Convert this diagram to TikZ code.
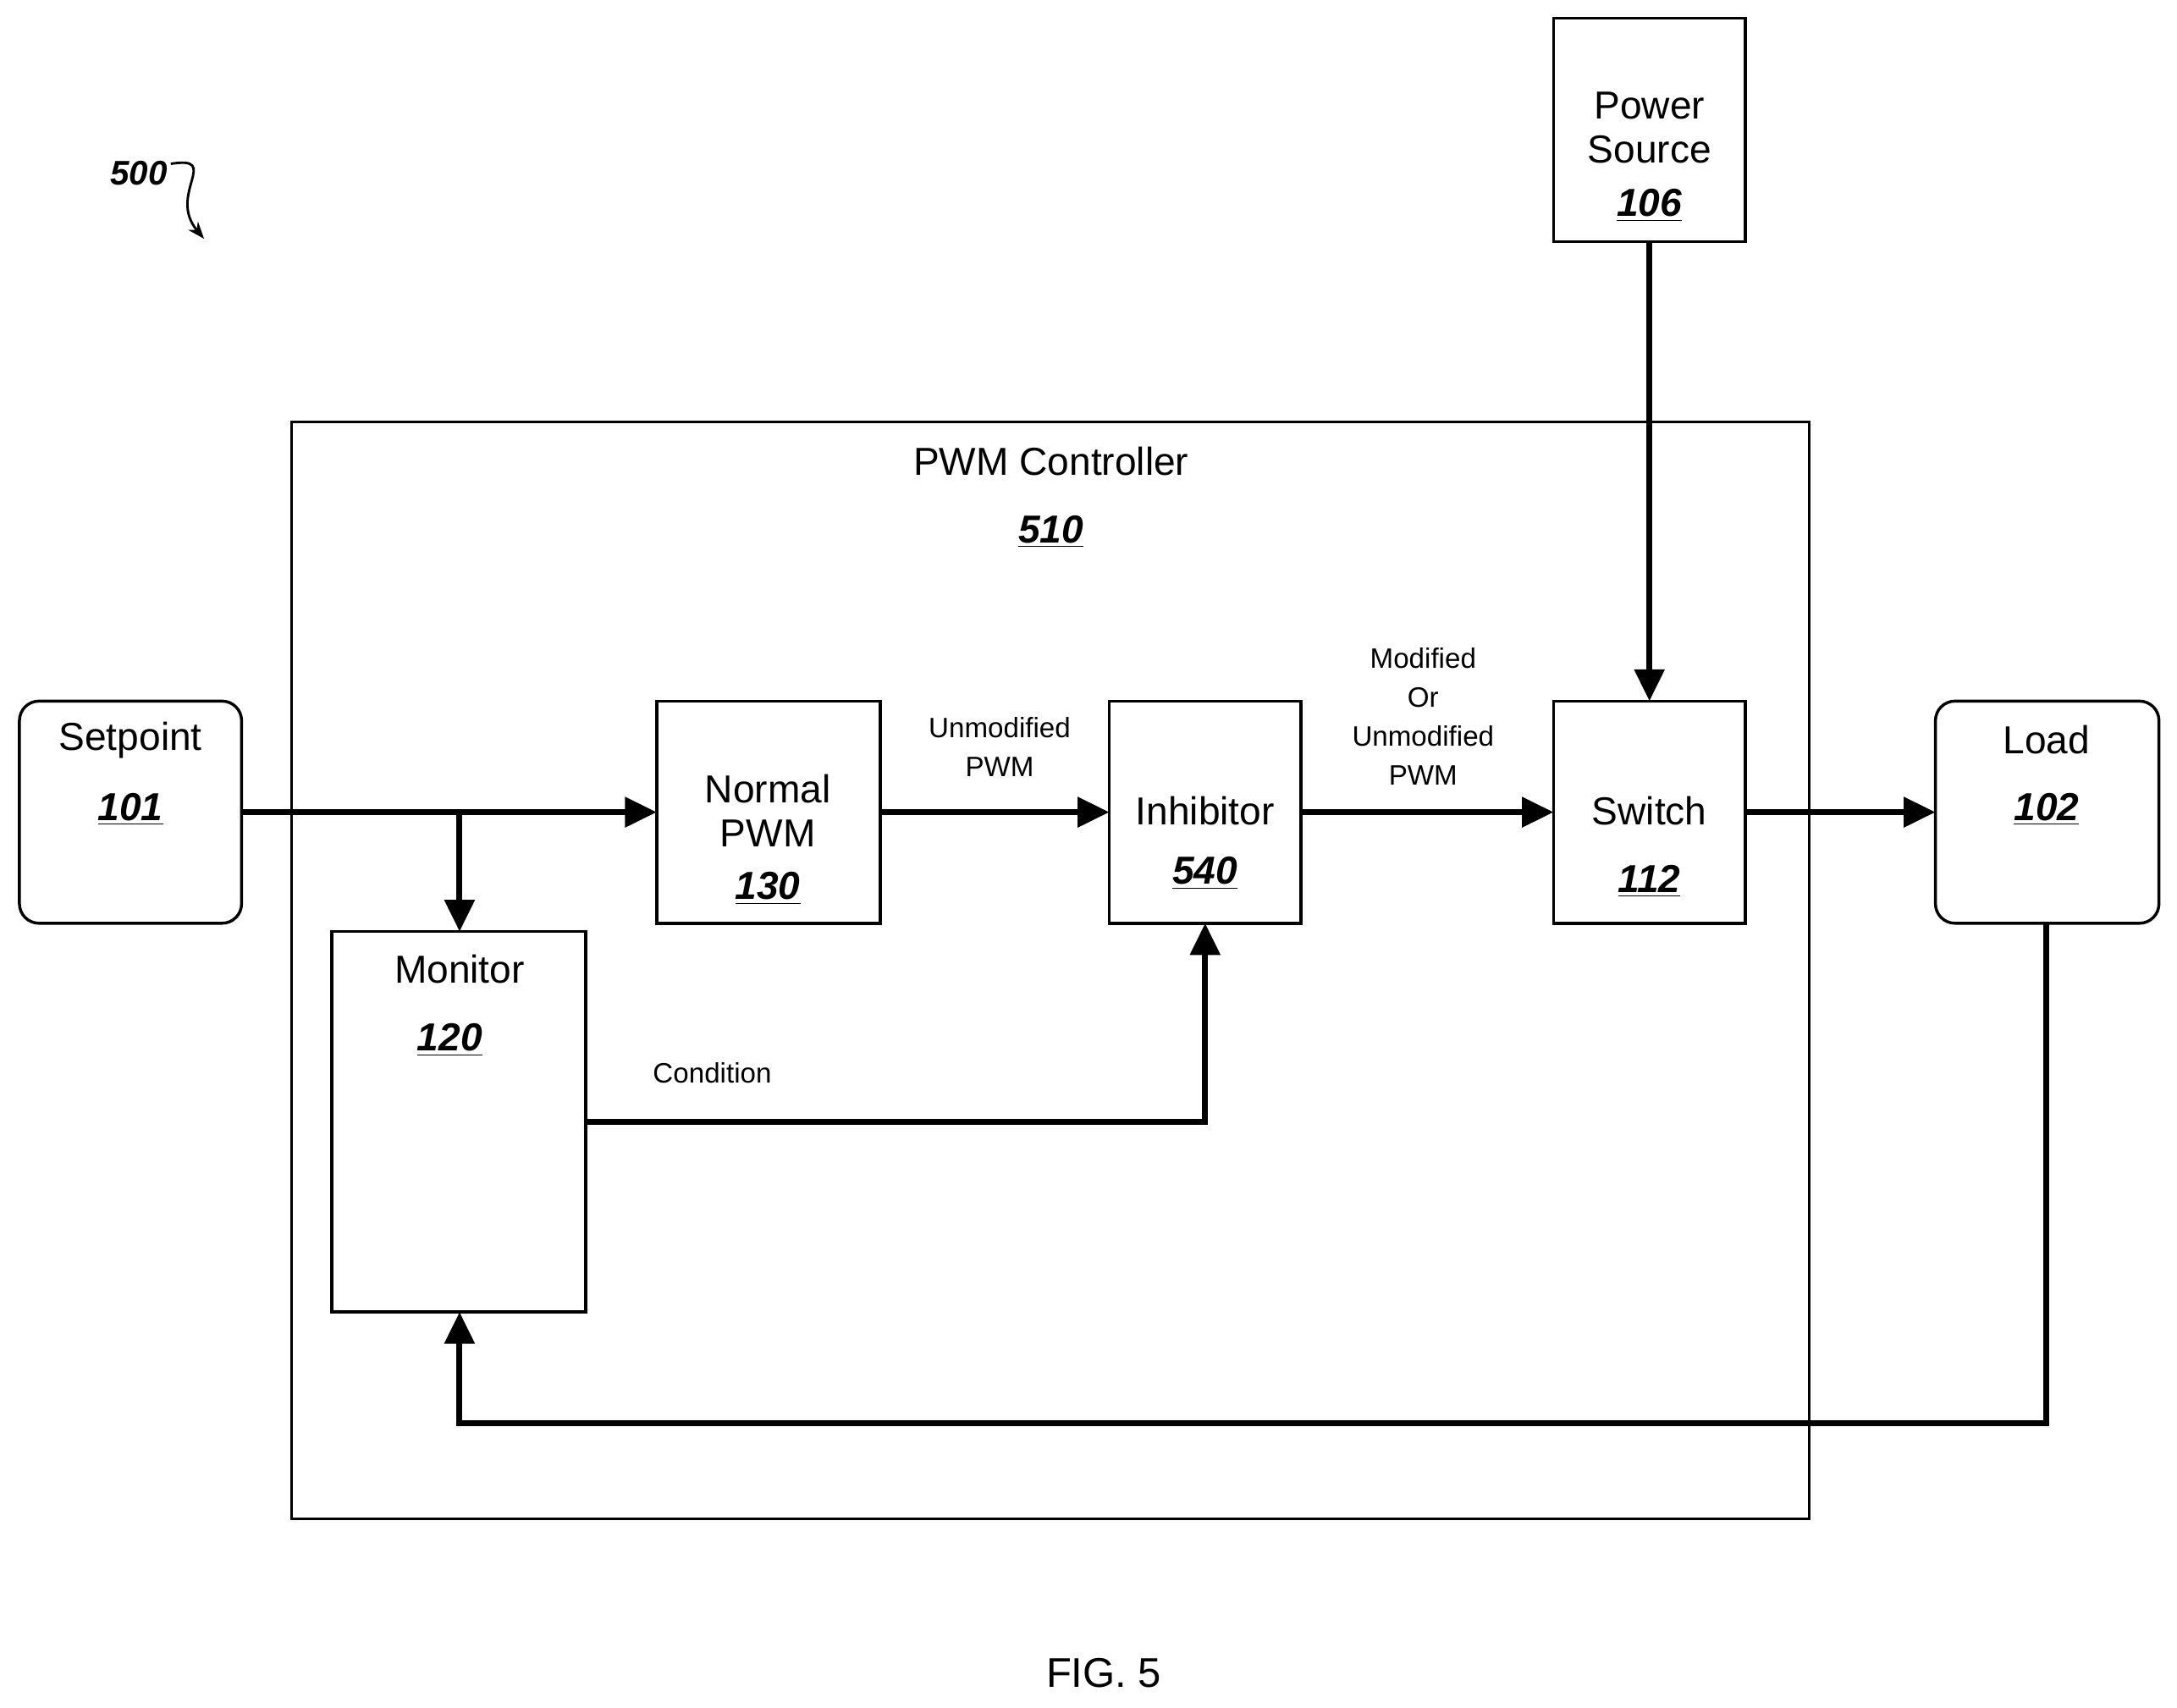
\documentclass[tikz,border=0pt]{standalone}
\usepackage{fontspec}
\setmainfont{Liberation Sans}
\usetikzlibrary{arrows.meta}
\newcommand{\refn}[1]{\textbf{\textit{\underline{#1}}}}
\begin{document}
\begin{tikzpicture}[x=0.02cm,y=-0.02cm,
 box/.style={draw,line width=1.2pt},
 rbox/.style={draw,line width=1.2pt,rounded corners=8pt},
 txt/.style={font=\fontsize{16}{18}\selectfont,align=center},
 lbl/.style={font=\fontsize{11.5}{16}\selectfont,align=center},
 con/.style={line width=2.4pt,-{Triangle[length=13pt,width=12pt]}},
 ln/.style={line width=2.4pt}]
\useasboundingbox (0,0) rectangle (1568,1230);
\draw[box] (210,304) rectangle (1303,1094);
\node[txt] at (757,332) {PWM Controller};
\node[txt] at (757,383) {\refn{510}};
\draw[rbox] (14,505) rectangle (174,665);
\node[txt] at (94,533) {Setpoint};
\node[txt] at (94,583) {\refn{101}};
\draw[box] (473,505) rectangle (634,665);
\node[txt] at (553,584) {Normal\\PWM};
\node[txt] at (553,640) {\refn{130}};
\draw[box] (799,505) rectangle (937,665);
\node[txt] at (868,584) {Inhibitor};
\node[txt] at (868,629) {\refn{540}};
\draw[box] (1119,505) rectangle (1257,665);
\node[txt] at (1188,584) {Switch};
\node[txt] at (1188,635) {\refn{112}};
\draw[rbox] (1394,505) rectangle (1555,665);
\node[txt] at (1474,533) {Load};
\node[txt] at (1474,583) {\refn{102}};
\draw[box] (1119,13) rectangle (1257,174);
\node[txt] at (1188,92) {Power\\Source};
\node[txt] at (1188,148) {\refn{106}};
\draw[box] (239,671) rectangle (422,945);
\node[txt] at (331,698) {Monitor};
\node[txt] at (324,749) {\refn{120}};
\coordinate (sp) at (174,585);
\coordinate (np) at (473,585);
\coordinate (br) at (331,585);
\draw[con] (sp) -- (np);
\draw[con] (br) -- (331,671);
\draw[con] (634,585) -- (799,585);
\draw[con] (937,585) -- (1119,585);
\draw[con] (1257,585) -- (1394,585);
\draw[con] (1188,174) -- (1188,505);
\draw[con] (422,808) -- (868,808) -- (868,665);
\draw[con] (1474,665) -- (1474,1025) -- (331,1025) -- (331,945);
\node[lbl] at (720,538) {Unmodified\\PWM};
\node[lbl] at (1025,516) {Modified\\Or\\Unmodified\\PWM};
\node[lbl] at (513,773) {Condition};
\node[font=\fontsize{14}{16}\selectfont\bfseries\itshape] at (100,125) {500};
\draw[line width=1pt,-{Stealth[length=7pt]}] (123,118) .. controls (160,112) and (120,140) .. (147,172);
\node[font=\fontsize{17}{20}\selectfont] at (795,1205) {FIG. 5};
\end{tikzpicture}
\end{document}
